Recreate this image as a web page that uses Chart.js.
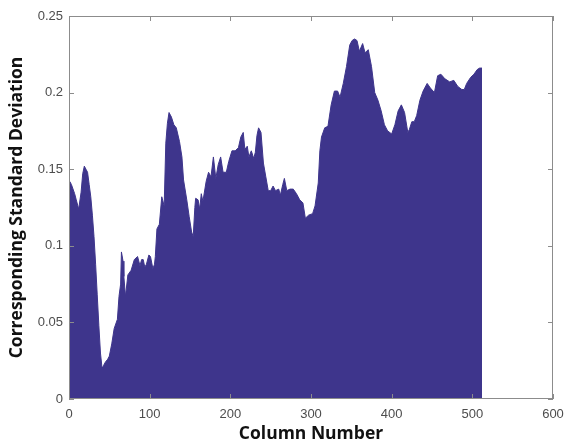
<!DOCTYPE html>
<html>
<head>
<meta charset="utf-8">
<script src="https://cdn.jsdelivr.net/npm/chart.js@4"></script>
<style>
  body { margin: 0; background: #fff; }
  canvas { display: block; }
</style>
</head>
<body>
<canvas id="stdChart" width="568" height="445"></canvas>
<script>
// Column numbers
const columns = [
  1, 3, 7, 9, 12, 15, 17, 19, 21, 23, 25, 27, 29, 31, 33, 35, 37, 39, 41, 43,
  45, 48, 50, 53, 56, 60, 62, 64, 65, 67, 68, 70, 73, 77, 81, 85, 88, 90, 92, 94,
  96, 99, 101, 104, 106, 107, 109, 112, 115, 118, 120, 122, 124, 127, 130, 133, 137, 140, 142, 146,
  149, 152, 154, 156, 157, 160, 162, 164, 166, 170, 173, 176, 179, 182, 185, 188, 191, 195, 198, 202,
  206, 210, 213, 216, 218, 221, 223, 226, 229, 231, 233, 235, 238, 241, 244, 247, 250, 253, 256, 260,
  262, 265, 267, 270, 274, 278, 282, 286, 290, 293, 297, 302, 305, 309, 311, 313, 317, 321, 325, 329,
  333, 336, 340, 344, 348, 351, 354, 357, 360, 364, 367, 371, 375, 379, 383, 387, 391, 395, 400, 404,
  408, 412, 416, 420, 422, 425, 428, 431, 435, 439, 444, 448, 453, 457, 461, 466, 472, 477, 482, 487,
  490, 493, 498, 502, 506, 509, 512
];

// Standard deviation per column
const stdValues = [
  0.142, 0.140, 0.134, 0.130, 0.124, 0.135, 0.147, 0.152, 0.150, 0.148, 0.140, 0.132, 0.120, 0.106, 0.088, 0.068, 0.048, 0.030, 0.020, 0.022,
  0.024, 0.026, 0.028, 0.036, 0.046, 0.052, 0.067, 0.075, 0.096, 0.090, 0.080, 0.067, 0.081, 0.084, 0.091, 0.093, 0.087, 0.091, 0.091, 0.086,
  0.088, 0.094, 0.093, 0.085, 0.088, 0.093, 0.111, 0.114, 0.132, 0.126, 0.167, 0.180, 0.187, 0.184, 0.179, 0.177, 0.168, 0.158, 0.143, 0.130,
  0.119, 0.109, 0.106, 0.125, 0.131, 0.130, 0.124, 0.134, 0.129, 0.142, 0.148, 0.145, 0.158, 0.144, 0.153, 0.158, 0.148, 0.148, 0.155, 0.162,
  0.162, 0.164, 0.171, 0.174, 0.163, 0.165, 0.158, 0.162, 0.157, 0.161, 0.172, 0.177, 0.174, 0.154, 0.145, 0.136, 0.136, 0.139, 0.136, 0.137,
  0.133, 0.140, 0.144, 0.136, 0.137, 0.137, 0.134, 0.130, 0.128, 0.118, 0.120, 0.121, 0.126, 0.141, 0.162, 0.171, 0.177, 0.178, 0.192, 0.201,
  0.201, 0.197, 0.206, 0.217, 0.231, 0.234, 0.235, 0.234, 0.227, 0.232, 0.226, 0.228, 0.217, 0.200, 0.195, 0.188, 0.179, 0.175, 0.173, 0.179,
  0.188, 0.192, 0.187, 0.174, 0.176, 0.181, 0.181, 0.185, 0.195, 0.201, 0.206, 0.203, 0.200, 0.211, 0.212, 0.209, 0.207, 0.208, 0.204, 0.202,
  0.202, 0.206, 0.210, 0.212, 0.215, 0.216, 0.216
];

const xTicks = [0, 100, 200, 300, 400, 500, 600];
const yTicks = [0, 0.05, 0.1, 0.15, 0.2, 0.25];

const fillColor = '#3e358c';
const axisColor = '#8c8c8c';

// Box round the plot with inward ticks (MATLAB style)
const axesBox = {
  id: 'axesBox',
  afterDatasetsDraw(chart) {
    const { ctx, chartArea: a, scales } = chart;
    const len = 5;
    ctx.save();
    ctx.strokeStyle = axisColor;
    ctx.lineWidth = 1;
    ctx.strokeRect(a.left + 0.5, a.top + 0.5, a.right - a.left - 1, a.bottom - a.top - 1);
    ctx.beginPath();
    xTicks.forEach(t => {
      const x = Math.round(scales.x.getPixelForValue(t)) + 0.5;
      ctx.moveTo(x, a.bottom); ctx.lineTo(x, a.bottom - len);
      ctx.moveTo(x, a.top); ctx.lineTo(x, a.top + len);
    });
    yTicks.forEach(t => {
      const y = Math.round(scales.y.getPixelForValue(t)) + 0.5;
      ctx.moveTo(a.left, y); ctx.lineTo(a.left + len, y);
      ctx.moveTo(a.right, y); ctx.lineTo(a.right - len, y);
    });
    ctx.stroke();
    ctx.restore();
  }
};

const tickFont = { family: '"Liberation Sans", Arial, sans-serif', size: 13 };
const titleFont = { family: '"Open Sans", sans-serif', size: 17.5, weight: 'bold' };

new Chart(document.getElementById('stdChart'), {
  type: 'line',
  data: {
    datasets: [{
      data: columns.map((c, i) => ({ x: c, y: stdValues[i] })),
      fill: 'origin',
      backgroundColor: fillColor,
      borderColor: fillColor,
      borderWidth: 1,
      pointRadius: 0,
      tension: 0
    }]
  },
  options: {
    responsive: false,
    animation: false,
    layout: { padding: { top: 16, right: 15, left: 0, bottom: 0 } },
    plugins: {
      legend: { display: false },
      tooltip: { enabled: false }
    },
    scales: {
      x: {
        type: 'linear',
        min: 0,
        max: 600,
        afterBuildTicks: s => { s.ticks = xTicks.map(v => ({ value: v })); },
        afterFit: s => { s.height = 46; s.paddingLeft = 0; s.paddingRight = 0; },
        grid: { display: false, drawTicks: false },
        border: { display: false },
        ticks: { color: '#4d4d4d', font: tickFont, padding: 8, maxRotation: 0 },
        title: { display: true, text: 'Column Number', color: '#111', font: titleFont, padding: { top: 0, bottom: 0 } }
      },
      y: {
        min: 0,
        max: 0.25,
        afterBuildTicks: s => { s.ticks = yTicks.map(v => ({ value: v })); },
        afterFit: s => { s.width = 69; s.paddingTop = 0; s.paddingBottom = 0; },
        grid: { display: false, drawTicks: false },
        border: { display: false },
        ticks: { color: '#4d4d4d', font: tickFont, padding: 6, callback: v => String(+v.toFixed(2)) },
        title: { display: true, text: 'Corresponding Standard Deviation', color: '#111', font: titleFont, padding: { top: 7, bottom: 0 } }
      }
    }
  },
  plugins: [axesBox]
});
</script>
</body>
</html>
